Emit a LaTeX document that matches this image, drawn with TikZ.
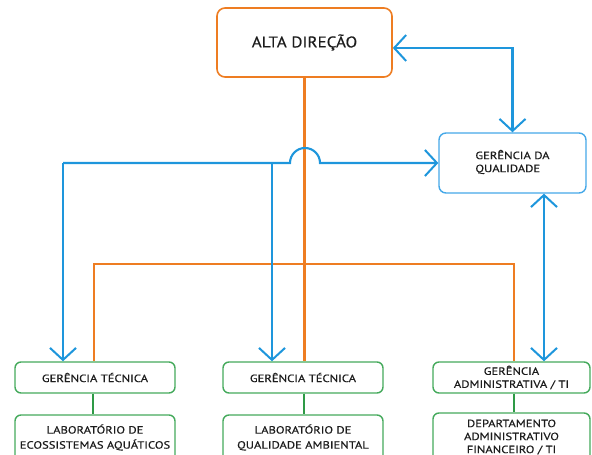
\documentclass[tikz,border=0pt]{standalone}
\usepackage{fontspec}
\setmainfont{PT Sans}
\newfontfamily\boxfont[FakeStretch=1.2,FakeBold=0.4]{PT Sans}
\newfontfamily\topfont[FakeStretch=1.1,FakeBold=0.4]{PT Sans}
\usetikzlibrary{arrows.meta}
\definecolor{orgC}{HTML}{EE7D22}
\definecolor{bluC}{HTML}{1E96DC}
\definecolor{bluB}{HTML}{45A8E8}
\definecolor{grnC}{HTML}{2E9A46}
\definecolor{grnB}{HTML}{45AA5C}
\definecolor{txtC}{HTML}{1C1C1C}
\begin{document}
\begin{tikzpicture}[x=1pt,y=1pt,
  box/.style={draw, line width=1.4pt, rounded corners=6pt, fill=white, text=txtC, align=center, inner sep=0pt, font=\boxfont\fontsize{10.5}{13}\selectfont},
  obox/.style={box, draw=orgC, line width=1.6pt, rounded corners=8pt, font=\topfont\fontsize{15.5}{18}\selectfont},
  qbox/.style={box, draw=bluB, rounded corners=7pt},
  gbox/.style={box, draw=grnB},
  oline/.style={draw=orgC, line width=2.6pt},
  bline/.style={draw=bluC, line width=2.1pt},
  gline/.style={draw=grnC, line width=2.3pt},
  tip/.style={-{Straight Barb[length=12pt,width=26pt,line width=2pt]}},
  tips/.style={{Straight Barb[length=12pt,width=26pt,line width=2pt]}-{Straight Barb[length=12pt,width=26pt,line width=2pt]}}
]
\useasboundingbox (0,0) rectangle (592,455);
\clip (0,0) rectangle (592,455);

% nodes
\node[obox, minimum width=175, minimum height=69] (alta) at (304.5,412.5) {ALTA DIREÇÃO};
\node[qbox, minimum width=147, minimum height=60] (qual) at (512.5,292) {\begin{tabular}{@{}l@{}}GERÊNCIA DA\\QUALIDADE\end{tabular}};
\node[gbox, minimum width=160, minimum height=31] (gt1) at (95,77.5) {GERÊNCIA TÉCNICA};
\node[gbox, minimum width=160, minimum height=31] (gt2) at (303,77.5) {GERÊNCIA TÉCNICA};
\node[gbox, minimum width=157, minimum height=31] (adm) at (511.5,77.5) {GERÊNCIA\\ADMINISTRATIVA / TI};
\node[gbox, minimum width=160, minimum height=47] (lab1) at (95,16.5) {\raisebox{3pt}{\begin{tabular}{@{}c@{}}LABORATÓRIO DE\\[2pt]ECOSSISTEMAS AQUÁTICOS\end{tabular}}};
\node[gbox, minimum width=160, minimum height=47] (lab2) at (303,16.5) {\raisebox{3pt}{\begin{tabular}{@{}c@{}}LABORATÓRIO DE\\[2pt]QUALIDADE AMBIENTAL\end{tabular}}};
\node[gbox, minimum width=157, minimum height=49] (dep) at (511.5,17.5) {\raisebox{3pt}{\begin{tabular}{@{}c@{}}DEPARTAMENTO\\ADMINISTRATIVO\\FINANCEIRO / TI\end{tabular}}};

\coordinate (bj) at (63,292);
\coordinate (bk) at (272,292);
\coordinate (ob) at (305,191);

% orange
\draw[oline] (alta.south) -- (alta.south |- gt2.north);
\draw[oline] ([xshift=-1]gt1.north) |- (ob) -| ([xshift=2.5]adm.north);

% green
\draw[gline] ([xshift=-2]gt1.south) -- ([xshift=-2]lab1.north);
\draw[gline] ([xshift=1]gt2.south) -- ([xshift=1]lab2.north);
\draw[gline] ([xshift=2.5]adm.south) -- ([xshift=2.5]dep.north);

% blue
\draw[bline, tips] ([yshift=-5.5]alta.east) -| (qual.north);
\draw[bline, tip] (bj) -- ([xshift=-32]gt1.north);
\draw[bline, tip] (bk) -- ([xshift=-31]gt2.north);
\draw[bline, tip] (bj) -- (290,292) arc (180:0:15) -- (qual.west);
\draw[bline, tips] ([xshift=31.5]qual.south) -- ([xshift=32.5]adm.north);
\end{tikzpicture}
\end{document}
